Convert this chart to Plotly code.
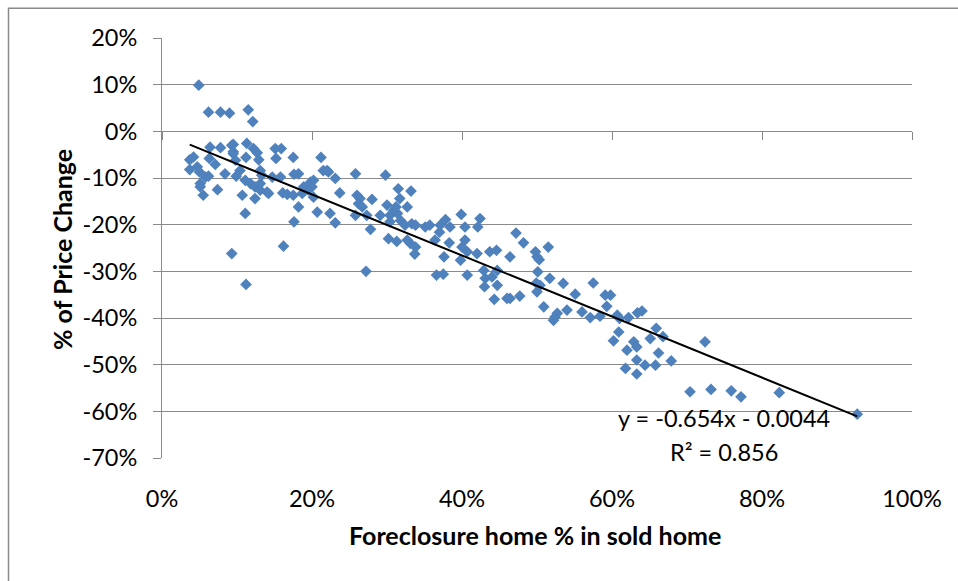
import plotly.graph_objects as go

# Foreclosure home % in sold home (x, %) and % of price change (y, %)
foreclosure_pct = [
    4.9, 6.2, 7.8, 9.0, 11.5, 12.1, 3.7, 4.2, 3.7, 4.7, 5.0, 5.8, 6.2, 5.1, 5.5, 6.4, 6.3, 7.1, 7.8, 7.4,
    8.4, 9.5, 9.5, 9.9, 10.7, 11.1, 11.2, 11.3, 12.2, 12.7, 12.9, 10.4, 11.1, 11.8, 12.4, 12.4, 13.1, 13.1,
    14.0, 15.1, 15.9, 15.2, 14.7, 15.8, 16.1, 16.7, 17.5, 17.6, 18.2, 18.2, 17.6, 18.9, 19.5, 20.2, 20.0,
    20.7, 21.2, 21.5, 22.0, 22.4, 23.1, 23.1, 23.7,
    5.1, 9.8, 13.3, 13.1, 14.2, 9.3, 9.5,
    9.3, 11.2, 16.2, 27.2,
    22.2, 25.8, 29.8, 19.8, 18.7, 17.5, 20.2, 26.0, 26.4, 26.2, 26.7, 25.8, 27.3, 28.0, 27.8, 29.1, 30.0,
    30.4, 30.9, 31.5, 31.7, 31.2, 31.4, 30.4, 31.8, 32.7, 32.4, 30.2, 31.3, 33.1, 33.2,
    33.3, 33.8, 32.7, 33.8, 33.7, 35.1, 35.7, 36.4, 37.0, 37.1, 37.8, 38.4, 38.3, 37.6, 39.9, 40.4, 40.4,
    40.0, 40.7, 39.8, 42.4, 42.1, 42.0, 36.6, 37.5, 40.7, 42.9, 43.1, 43.0, 44.7, 44.7, 43.7, 44.6, 46.4,
    47.2, 48.2, 49.8, 50.0, 50.3, 51.5, 50.1, 51.7, 53.5, 49.9, 50.4, 50.0, 44.3, 46.0, 46.4, 47.7, 44.0,
    50.9, 52.4, 52.2, 52.7, 54.0, 55.1, 57.5, 56.0, 57.1, 58.4, 59.1, 59.8, 59.3, 60.7, 61.0, 62.2, 63.4,
    64.0, 60.9, 60.2, 62.0, 62.9, 63.3, 63.3, 61.8, 63.3, 64.4, 65.8, 66.2, 65.9, 65.1, 66.8, 67.9, 72.4,
    70.4, 73.2, 75.9, 77.2, 82.3, 92.7,
]
price_change_pct = [
    9.9, 4.1, 4.1, 3.9, 4.6, 2.1, -6.1, -5.5, -8.2, -7.6, -8.7, -9.8, -9.6, -11.9, -13.7, -3.4, -5.8, -7.1,
    -3.5, -12.5, -9.1, -2.8, -4.4, -9.6, -13.7, -17.6, -5.6, -2.6, -3.7, -4.6, -6.1, -8.4, -10.5, -11.2,
    -11.9, -14.4, -8.4, -12.6, -13.0, -3.7, -3.7, -5.8, -9.8, -9.8, -13.2, -13.5, -5.6, -9.2, -9.1, -16.2,
    -19.4, -11.9, -12.6, -10.5, -11.9, -17.3, -5.6, -8.4, -8.4, -17.6, -10.1, -19.6, -13.2,
    -11.2, -6.2, -9.4, -11.2, -13.3, -3.0, -4.8,
    -26.2, -32.8, -24.6, -30.0,
    -8.7, -9.1, -9.4, -10.9, -13.3, -13.7, -14.1, -13.7, -14.4, -15.5, -16.2, -18.0, -18.0, -14.6, -21.0,
    -18.0, -15.8, -18.0, -16.9, -12.3, -14.4, -16.2, -17.6, -19.4, -19.1, -16.2, -20.1, -23.0, -23.6, -24.0,
    -12.8,
    -19.8, -20.1, -23.3, -24.8, -26.3, -20.5, -20.1, -23.3, -21.6, -20.1, -18.9, -20.5, -23.9, -26.9, -17.8,
    -20.5, -23.3, -24.8, -25.8, -27.6, -18.7, -20.5, -26.2, -30.8, -30.6, -30.8, -29.8, -31.5, -33.3, -33.0,
    -29.8, -25.8, -25.5, -26.9, -21.8, -23.9, -25.8, -26.9, -27.5, -24.8, -30.1, -31.5, -32.6, -32.5, -33.0,
    -34.4, -36.0, -35.8, -35.8, -35.3, -31.2,
    -37.6, -39.8, -40.5, -39.0, -38.3, -34.9, -32.5, -38.7, -39.9, -39.6, -35.1, -35.1, -37.5, -39.4, -40.1,
    -39.9, -38.9, -38.5, -43.0, -44.9, -46.9, -45.1, -46.2, -49.0, -50.8, -52.0, -50.1, -50.1, -47.5, -42.2,
    -44.4, -44.0, -49.2, -45.1,
    -55.8, -55.3, -55.6, -56.9, -56.0, -60.6,
]

# Linear trendline from the chart label: y = -0.654x - 0.0044 (in fractions)
trend_slope = -0.654
trend_intercept_pct = -0.44
trend_label = ["y = -0.654x - 0.0044", "R² = 0.856"]

x_ticks = [0, 20, 40, 60, 80, 100]
y_ticks = [20, 10, 0, -10, -20, -30, -40, -50, -60, -70]

x_min, x_max = min(foreclosure_pct), max(foreclosure_pct)
trend_x = [x_min, x_max]
trend_y = [trend_slope * v + trend_intercept_pct for v in trend_x]

FONT = "Lato"
GRID = "#8a8a8a"

fig = go.Figure()
fig.add_trace(go.Scatter(
    x=foreclosure_pct, y=price_change_pct, mode="markers",
    marker=dict(symbol="diamond", size=9, color="#4F81BD", line=dict(width=0)),
    hoverinfo="x+y", showlegend=False,
))
fig.add_trace(go.Scatter(
    x=trend_x, y=trend_y, mode="lines", xaxis="x2",
    line=dict(color="black", width=2), hoverinfo="skip", showlegend=False,
))

fig.update_layout(
    width=958, height=581,
    margin=dict(l=162, r=46, t=38, b=123),
    paper_bgcolor="white", plot_bgcolor="white",
    font=dict(family=FONT, size=23.5, color="black"),
    xaxis=dict(
        range=[0, 100], tickvals=x_ticks, ticktext=[f"{v}%" for v in x_ticks],
        showgrid=False, zeroline=False, showline=False, ticks="",
        ticklabelstandoff=24, tickfont=dict(size=23.5),
    ),
    xaxis2=dict(
        range=[0, 100], tickvals=x_ticks, overlaying="x", anchor="free",
        position=70 / 90, side="bottom", showticklabels=False,
        showgrid=False, zeroline=False, showline=True, linecolor=GRID, linewidth=1,
        ticks="outside", ticklen=8, tickcolor=GRID, tickwidth=1,
    ),
    yaxis=dict(
        range=[-70, 20], tickvals=y_ticks, ticktext=[f"{v}%" for v in y_ticks],
        showgrid=True, gridcolor=GRID, gridwidth=1, zeroline=False,
        showline=True, linecolor=GRID, linewidth=1,
        ticks="outside", ticklen=8, tickcolor=GRID, tickwidth=1,
        ticklabelstandoff=11, tickfont=dict(size=23.5),
    ),
    annotations=[
        dict(text="<b>Foreclosure home % in sold home</b>", xref="paper", yref="paper",
             x=(535 - 162) / 750, y=(458 - 535) / 420, showarrow=False,
             font=dict(size=25), xanchor="center", yanchor="middle"),
        dict(text="<b>% of Price Change</b>", xref="paper", yref="paper",
             x=(62 - 162) / 750, y=(458 - 250) / 420, showarrow=False, textangle=-90,
             font=dict(size=25), xanchor="center", yanchor="middle"),
        dict(text=trend_label[0], xref="paper", yref="paper",
             x=(724 - 162) / 750, y=(458 - 418) / 420, showarrow=False,
             font=dict(size=23.5), xanchor="center", yanchor="middle"),
        dict(text=trend_label[1], xref="paper", yref="paper",
             x=(724 - 162) / 750, y=(458 - 452) / 420, showarrow=False,
             font=dict(size=23.5), xanchor="center", yanchor="middle"),
    ],
    shapes=[
        dict(type="rect", xref="paper", yref="paper",
             x0=(8.5 - 162) / 750, x1=1.3,
             y0=-0.6, y1=(458 - 8.3) / 420,
             line=dict(color=GRID, width=1.5), fillcolor="rgba(0,0,0,0)", layer="below"),
    ],
)

fig.write_html("out.html", config={"displayModeBar": False},
               post_script="document.body.style.margin='0px';")
